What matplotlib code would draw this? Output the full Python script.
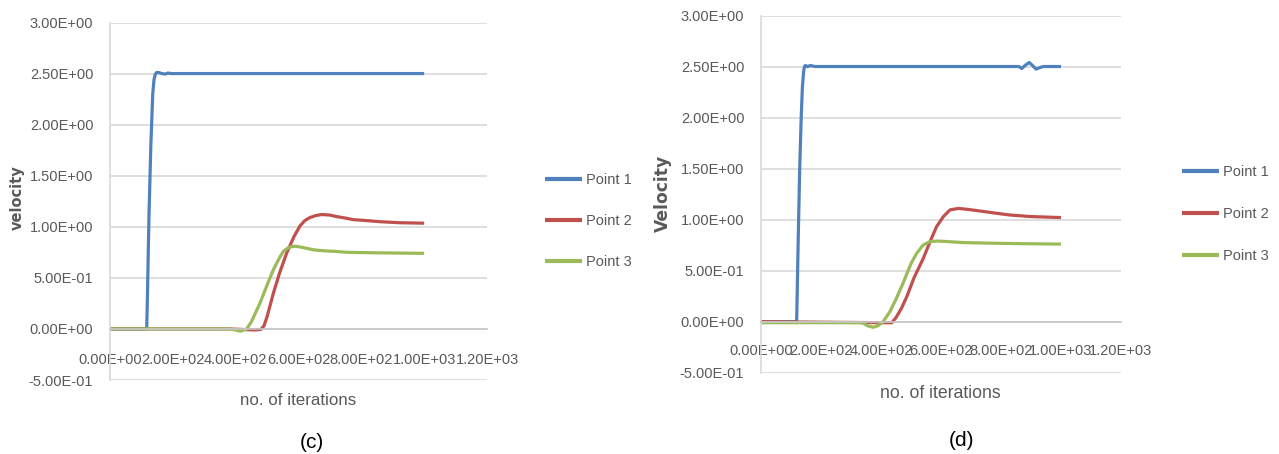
import matplotlib
matplotlib.use("Agg")
import matplotlib.pyplot as plt
from matplotlib.ticker import FuncFormatter

FONT = ["Liberation Sans", "DejaVu Sans"]

GRAY = "#595959"
GRID = "#D9D9D9"
COLORS = ["#4F81BD", "#C0504D", "#9BBB59"]
LABELS = ["Point 1", "Point 2", "Point 3"]

YTICKS = [-0.5, 0.0, 0.5, 1.0, 1.5, 2.0, 2.5, 3.0]
XTICKS = [0, 200, 400, 600, 800, 1000, 1200]

# ---- case (c) ----
c_p1_x = [0, 112, 117, 119, 124, 130, 136, 140, 144, 148, 155, 165, 175, 185, 195, 210, 1000]
c_p1_y = [0, 0, 0.02, 0.3, 1.1, 1.8, 2.3, 2.44, 2.49, 2.51, 2.51, 2.50, 2.495, 2.505, 2.50, 2.50, 2.50]

c_p2_x = [0, 380, 420, 460, 480, 490, 500, 520, 540, 562, 585, 605, 620, 636, 655, 674, 700, 721, 750, 774, 820, 859, 920, 1000]
c_p2_y = [0, 0, -0.005, -0.01, -0.005, 0.03, 0.12, 0.35, 0.55, 0.74, 0.90, 1.01, 1.06, 1.09, 1.11, 1.12, 1.115, 1.10, 1.085, 1.07, 1.06, 1.05, 1.04, 1.035]

c_p3_x = [0, 380, 400, 415, 435, 450, 477, 500, 520, 540, 552, 570, 589, 610, 647, 680, 713, 754, 850, 1000]
c_p3_y = [0, 0, -0.01, -0.022, 0.0, 0.07, 0.25, 0.43, 0.58, 0.70, 0.76, 0.80, 0.81, 0.80, 0.775, 0.765, 0.76, 0.75, 0.745, 0.74]

# ---- case (d) ----
d_p1_x = [0, 116, 119, 124, 129, 134, 138, 142, 145, 148, 155, 165, 180, 200, 860, 869, 880, 894, 905, 917, 930, 941, 960, 1000]
d_p1_y = [0, 0, 0.02, 0.8, 1.5, 2.0, 2.3, 2.45, 2.5, 2.51, 2.50, 2.51, 2.50, 2.50, 2.50, 2.48, 2.51, 2.54, 2.51, 2.475, 2.49, 2.50, 2.50, 2.50]

d_p2_x = [0, 400, 436, 450, 468, 486, 510, 541, 563, 585, 608, 630, 658, 690, 741, 790, 830, 900, 1000]
d_p2_y = [0, -0.01, -0.01, 0.04, 0.13, 0.245, 0.43, 0.62, 0.78, 0.93, 1.03, 1.095, 1.11, 1.10, 1.08, 1.06, 1.045, 1.03, 1.02]

d_p3_x = [0, 330, 341, 355, 374, 390, 407, 430, 450, 474, 500, 519, 540, 563, 590, 620, 674, 750, 850, 1000]
d_p3_y = [-0.01, -0.01, -0.015, -0.04, -0.055, -0.04, 0.0, 0.1, 0.22, 0.38, 0.57, 0.67, 0.75, 0.785, 0.79, 0.785, 0.775, 0.77, 0.765, 0.76]


def sci(v, pos=None):
    return "{:.2E}".format(v)


def setup(ax, ylabel, ylab_xy, ylab_size, xlab_xy, xlab_size, xpad):
    ax.set_xlim(0, 1200)
    ax.set_ylim(-0.5, 3.0)
    ax.set_xticks(XTICKS)
    ax.set_yticks(YTICKS)
    ax.xaxis.set_major_formatter(FuncFormatter(sci))
    ax.yaxis.set_major_formatter(FuncFormatter(sci))
    ax.grid(axis="y", color=GRID, linewidth=1.2)
    ax.set_axisbelow(True)
    for s in ["top", "right"]:
        ax.spines[s].set_visible(False)
    ax.spines["left"].set_color(GRID)
    ax.spines["left"].set_linewidth(1.2)
    # category axis crosses at zero
    ax.spines["bottom"].set_position(("data", 0))
    ax.spines["bottom"].set_color("#C8C8C8")
    ax.spines["bottom"].set_linewidth(1.2)
    ax.tick_params(axis="both", length=0, colors=GRAY, labelsize=10.5)
    ax.tick_params(axis="x", pad=xpad)
    ax.tick_params(axis="y", pad=12)
    for t in ax.get_xticklabels() + ax.get_yticklabels():
        t.set_fontfamily(FONT)
    ax.set_ylabel(ylabel, fontsize=ylab_size, fontweight="bold", color=GRAY,
                  family="DejaVu Sans", va="center")
    ax.yaxis.set_label_coords(*ylab_xy)
    ax.set_xlabel("no. of iterations", fontsize=xlab_size, color=GRAY, family=FONT, va="center")
    ax.xaxis.set_label_coords(*xlab_xy)


fig = plt.figure(figsize=(12.79, 4.54), dpi=100)
W, H = 1279.0, 454.0

def px_axes(x0, x1, ytop, ybot):
    return fig.add_axes([x0 / W, 1 - ybot / H, (x1 - x0) / W, (ybot - ytop) / H])

ax_c = px_axes(110, 487, 22.5, 380)
ax_d = px_axes(761, 1121, 15.5, 372.7)

for ax, series in [
    (ax_c, [(c_p1_x, c_p1_y), (c_p2_x, c_p2_y), (c_p3_x, c_p3_y)]),
    (ax_d, [(d_p1_x, d_p1_y), (d_p2_x, d_p2_y), (d_p3_x, d_p3_y)]),
]:
    for (x, y), col, lab in zip(series, COLORS, LABELS):
        ax.plot(x, y, color=col, linewidth=2.3, label=lab, solid_capstyle="butt",
                solid_joinstyle="round")

setup(ax_c, "velocity", (-0.2467, 0.509), 10.5, (0.4987, -0.056), 12.2, 17)
setup(ax_d, "Velocity", (-0.272, 0.503), 12.3, (0.497, -0.057), 12.7, 16)

for ax, (lx, ly, sp) in [(ax_c, (545, 173.5, 1.84)), (ax_d, (1182, 165.5, 1.9))]:
    leg = ax.legend(loc="upper left", bbox_to_anchor=(lx / W, 1 - ly / H),
                    bbox_transform=fig.transFigure, frameon=False,
                    prop={"family": FONT, "size": 10.5}, labelcolor=GRAY,
                    handlelength=2.53, handletextpad=0.27, labelspacing=sp,
                    borderpad=0, borderaxespad=0)
    for line in leg.get_lines():
        line.set_linewidth(3)

fig.text(312 / W, 1 - 442 / H, "(c)", ha="center", va="center", fontsize=15, family=FONT)
fig.text(962 / W, 1 - 440 / H, "(d)", ha="center", va="center", fontsize=15, family=FONT)

fig.savefig("out.png", dpi=100)
